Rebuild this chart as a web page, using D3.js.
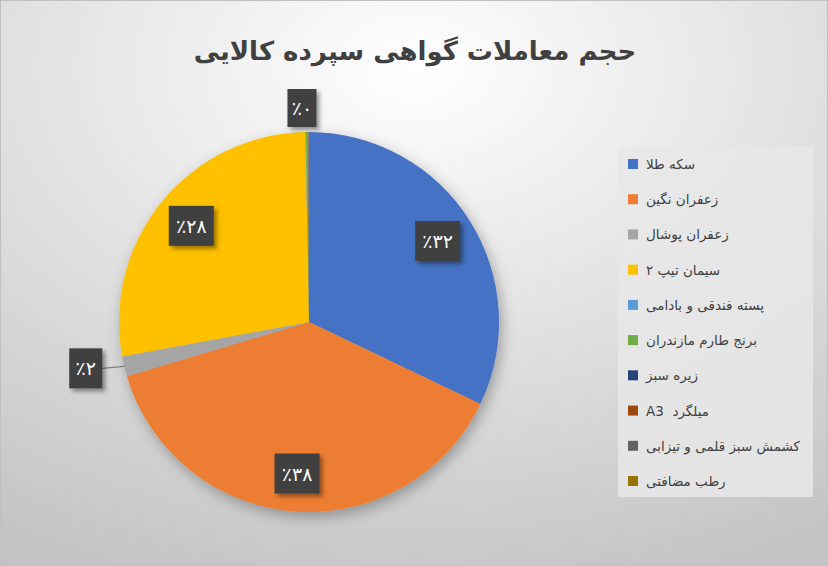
<!DOCTYPE html>
<html>
<head>
<meta charset="UTF-8">
<title>حجم معاملات گواهی سپرده کالایی</title>
<script src="https://d3js.org/d3.v7.min.js"></script>
<style>
  body { margin:0; background:#fff; }
  svg { display:block; font-family:"DejaVu Sans", sans-serif; }
</style>
</head>
<body>
<svg width="828" height="566"></svg>
<script>
// data (percent of total)
const categories = ['سکه طلا','زعفران نگین','زعفران پوشال','سیمان تیپ ۲','پسته فندقی و بادامی',
                    'برنج طارم مازندران','زیره سبز','میلگرد  A3','کشمش سبز قلمی و تیزابی',' رطب مضافتی'];
const values = [32.1, 38.3, 1.7, 27.6, 0.04, 0.18, 0.02, 0.03, 0.02, 0.01];
const showLabel = [true, true, true, true, false, true, false, false, false, false];
const colors = ['#4472C4','#ED7D31','#A5A5A5','#FFC000','#5B9BD5','#70AD47','#264478','#9E480E','#636363','#997300'];

const W=828, H=566, cx=309, cy=322, R=190;
const svg = d3.select('svg');
const defs = svg.append('defs');

let bg = defs.append('radialGradient').attr('id','bg')
  .attr('cx','50%').attr('cy','12%').attr('r','95%');
bg.append('stop').attr('offset','0%').attr('stop-color','#ffffff');
bg.append('stop').attr('offset','100%').attr('stop-color','#c4c4c4');

defs.append('filter').attr('id','pieShadow').attr('x','-20%').attr('y','-20%').attr('width','140%').attr('height','140%')
  .append('feDropShadow').attr('dx',3).attr('dy',5).attr('stdDeviation',7).attr('flood-color','#000').attr('flood-opacity',0.3);
defs.append('filter').attr('id','boxShadow').attr('x','-30%').attr('y','-30%').attr('width','160%').attr('height','160%')
  .append('feDropShadow').attr('dx',3).attr('dy',3).attr('stdDeviation',2).attr('flood-color','#000').attr('flood-opacity',0.4);

svg.append('rect').attr('x',0.5).attr('y',0.5).attr('width',W-1).attr('height',H-1)
  .attr('fill','url(#bg)').attr('stroke','#c0c0c0');

// title
svg.append('text').attr('x',415).attr('y',60).attr('text-anchor','middle')
  .attr('font-size',26).attr('font-weight','bold').attr('fill','#404040')
  .text('حجم معاملات گواهی سپرده کالایی');

const pie = d3.pie().sort(null).value(d=>d)(values);
const arc = d3.arc().innerRadius(0).outerRadius(R);
const labelArc = d3.arc().innerRadius(R*0.8).outerRadius(R*0.8);

const g = svg.append('g').attr('transform',`translate(${cx},${cy})`);
g.append('g').attr('filter','url(#pieShadow)')
  .selectAll('path').data(pie).enter().append('path')
  .attr('d',arc).attr('fill',(d,i)=>colors[i]);

const fa = n => String(n).replace(/\d/g, c=>'۰۱۲۳۴۵۶۷۸۹'[+c]);
const total = d3.sum(values);

// data labels: inside for big slices, outside with leader for small ones
pie.forEach((d,i)=>{
  if(!showLabel[i]) return;
  const pct = values[i]/total*100;
  const mid = (d.startAngle+d.endAngle)/2;
  const ex = Math.sin(mid)*R, ey = -Math.cos(mid)*R;
  let pos, w = pct>=10 ? 45 : 33, h = 40, leader = null;
  if(pct>=10){
    pos = labelArc.centroid(d);
  } else if(pct>=1){
    pos = [ex - 22 - w/2, ey + 2];
    leader = [[pos[0]+w/2, pos[1]], [ex, ey]];
  } else {
    w = 29; h = 38;
    pos = [ex - 5, ey - h/2 - 5];
  }
  if(leader) g.append('line').attr('x1',leader[0][0]).attr('y1',leader[0][1])
    .attr('x2',leader[1][0]).attr('y2',leader[1][1]).attr('stroke','#7f7f7f').attr('stroke-width',1.2);
  g.append('rect').attr('x',pos[0]-w/2).attr('y',pos[1]-h/2).attr('width',w).attr('height',h)
    .attr('fill','#404040').attr('filter','url(#boxShadow)');
  g.append('text').attr('x',pos[0]).attr('y',pos[1]+7).attr('text-anchor','middle')
    .attr('font-size',19).attr('fill','#fff')
    .text('٪' + fa(Math.round(pct)));
});

// legend
const lg = svg.append('g');
lg.append('rect').attr('x',618).attr('y',147).attr('width',195).attr('height',350).attr('fill','#e8e8e8').attr('opacity',0.85);
const ly = d3.scalePoint().domain(d3.range(categories.length)).range([164, 481]);
const items = lg.selectAll('g.item').data(categories).enter().append('g')
  .attr('transform',(d,i)=>`translate(0,${ly(i)})`);
items.append('rect').attr('x',628).attr('y',-5).attr('width',10).attr('height',10).attr('fill',(d,i)=>colors[i]);
items.append('text').attr('x',646).attr('y',5)
  .attr('direction','rtl').attr('text-anchor','end')
  .style('white-space','pre')
  .attr('font-size',13.5).attr('fill','#404040')
  .text(d=>d);
</script>
</body>
</html>
